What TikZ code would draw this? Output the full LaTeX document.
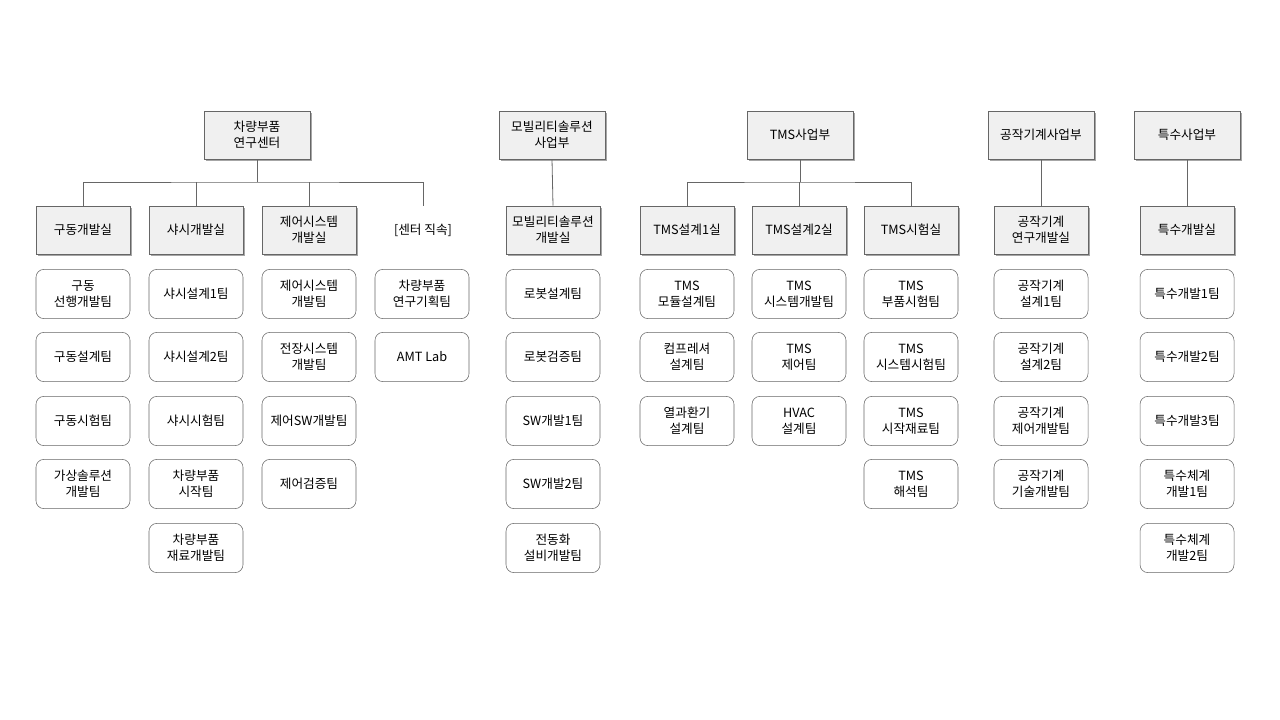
\documentclass[tikz,border=0pt]{standalone}
\usepackage{fontspec}
\setmainfont{Noto Sans CJK KR}
\usetikzlibrary{shadows}
\begin{document}
\begin{tikzpicture}[x=0.75pt,y=-0.75pt,font=\fontsize{9.5}{12}\selectfont,
 head/.style={draw=black!60,fill=black!6,minimum width=79.5pt,minimum height=36pt,align=center,inner sep=1pt,drop shadow={shadow xshift=1.2pt,shadow yshift=-1.2pt,fill=black!35,opacity=1}},
 team/.style={draw=black!60,fill=white,rounded corners=6pt,minimum width=70.5pt,minimum height=37pt,align=center,inner sep=1pt},
 ln/.style={draw=black!60,line width=0.6pt}]
\useasboundingbox (0,0) rectangle (1280,720);
% top
\node[head] (t1) at (257,135) {차량부품\\연구센터};
\node[head] (t2) at (552,135) {모빌리티솔루션\\사업부};
\node[head] (t3) at (800,135) {TMS사업부};
\node[head] (t4) at (1041,135) {공작기계사업부};
\node[head,minimum width=79.5pt] (t5) at (1187,135) {특수사업부};
% second level
\node[head,minimum width=70.5pt] (a1) at (83,230) {구동개발실};
\node[head,minimum width=70.5pt] (a2) at (196,230) {샤시개발실};
\node[head,minimum width=70.5pt] (a3) at (309,230) {제어시스템\\개발실};
\node (a4) at (423,230) {[센터 직속]};
\coordinate (a4t) at (423,206);
\node[head,minimum width=70.5pt] (b1) at (553,230) {모빌리티솔루션\\개발실};
\node[head,minimum width=70.5pt] (c1) at (687,230) {TMS설계1실};
\node[head,minimum width=70.5pt] (c2) at (799,230) {TMS설계2실};
\node[head,minimum width=70.5pt] (c3) at (911,230) {TMS시험실};
\node[head,minimum width=70.5pt] (d1) at (1041,230) {공작기계\\연구개발실};
\node[head,minimum width=70.5pt] (e1) at (1187,230) {특수개발실};
% connectors
\coordinate (j1) at (257,182);
\draw[ln] (t1.south) -- (j1);
\draw[ln] (a1.north) |- (j1) -| (a4t);
\draw[ln] (a2.north) -- (a2.north |- j1);
\draw[ln] (a3.north) -- (a3.north |- j1);
\draw[ln] (t2.south) -- (b1.north);
\coordinate (j3) at (800,182);
\draw[ln] (t3.south) -- (j3);
\draw[ln] (c1.north) |- (j3) -| (c3.north);
\draw[ln] (c2.north) -- (c2.north |- j3);
\draw[ln] (t4.south) -- (d1.north);
\draw[ln] (t5.south) -- (e1.north);
% teams
\foreach \x/\n/\txt in {83/1/{구동\\선행개발팀},83/2/{구동설계팀},83/3/{구동시험팀},83/4/{가상솔루션\\개발팀}}{}
\node[team] (a1r1) at (83,294) {구동\\선행개발팀};
\node[team] (a1r2) at (83,357) {구동설계팀};
\node[team] (a1r3) at (83,421) {구동시험팀};
\node[team] (a1r4) at (83,484) {가상솔루션\\개발팀};
\node[team] (a2r1) at (196,294) {샤시설계1팀};
\node[team] (a2r2) at (196,357) {샤시설계2팀};
\node[team] (a2r3) at (196,421) {샤시시험팀};
\node[team] (a2r4) at (196,484) {차량부품\\시작팀};
\node[team] (a2r5) at (196,548) {차량부품\\재료개발팀};
\node[team] (a3r1) at (309,294) {제어시스템\\개발팀};
\node[team] (a3r2) at (309,357) {전장시스템\\개발팀};
\node[team] (a3r3) at (309,421) {제어SW개발팀};
\node[team] (a3r4) at (309,484) {제어검증팀};
\node[team] (a4r1) at (422,294) {차량부품\\연구기획팀};
\node[team] (a4r2) at (422,357) {AMT Lab};
\node[team] (b1r1) at (553,294) {로봇설계팀};
\node[team] (b1r2) at (553,357) {로봇검증팀};
\node[team] (b1r3) at (553,421) {SW개발1팀};
\node[team] (b1r4) at (553,484) {SW개발2팀};
\node[team] (b1r5) at (553,548) {전동화\\설비개발팀};
\node[team] (c1r1) at (687,294) {TMS\\모듈설계팀};
\node[team] (c1r2) at (687,357) {컴프레셔\\설계팀};
\node[team] (c1r3) at (687,421) {열과환기\\설계팀};
\node[team] (c2r1) at (799,294) {TMS\\시스템개발팀};
\node[team] (c2r2) at (799,357) {TMS\\제어팀};
\node[team] (c2r3) at (799,421) {HVAC\\설계팀};
\node[team] (c3r1) at (911,294) {TMS\\부품시험팀};
\node[team] (c3r2) at (911,357) {TMS\\시스템시험팀};
\node[team] (c3r3) at (911,421) {TMS\\시작재료팀};
\node[team] (c3r4) at (911,484) {TMS\\해석팀};
\node[team] (d1r1) at (1041,294) {공작기계\\설계1팀};
\node[team] (d1r2) at (1041,357) {공작기계\\설계2팀};
\node[team] (d1r3) at (1041,421) {공작기계\\제어개발팀};
\node[team] (d1r4) at (1041,484) {공작기계\\기술개발팀};
\node[team] (e1r1) at (1187,294) {특수개발1팀};
\node[team] (e1r2) at (1187,357) {특수개발2팀};
\node[team] (e1r3) at (1187,421) {특수개발3팀};
\node[team] (e1r4) at (1187,484) {특수체계\\개발1팀};
\node[team] (e1r5) at (1187,548) {특수체계\\개발2팀};
\end{tikzpicture}
\end{document}
